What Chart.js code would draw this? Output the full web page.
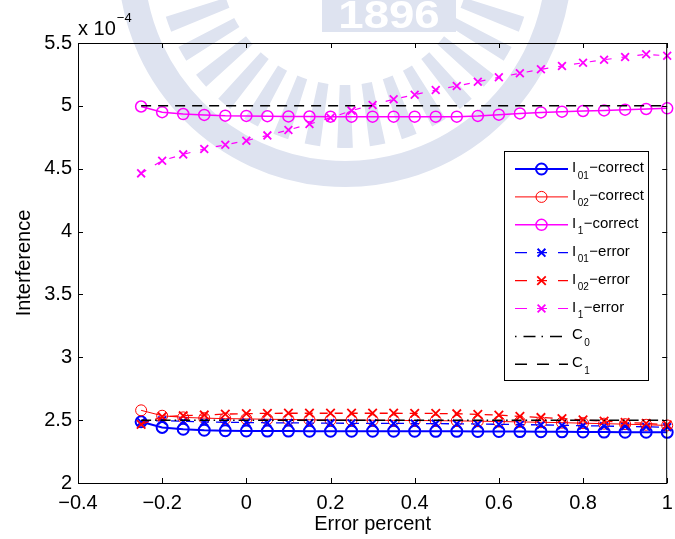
<!DOCTYPE html>
<html>
<head>
<meta charset="utf-8">
<script src="https://cdn.jsdelivr.net/npm/chart.js@4/dist/chart.umd.min.js"></script>
<style>
  html, body { margin: 0; padding: 0; background: #fff; }
  #wrap { width: 675px; height: 539px; }
</style>
</head>
<body>
<div id="wrap"><canvas id="interference_chart" width="675" height="539"></canvas></div>
<script>
// error percent on the x axis
const errorPercent = [-0.25, -0.2, -0.15, -0.1, -0.05, 0, 0.05, 0.1, 0.15, 0.2, 0.25, 0.3, 0.35,
  0.4, 0.45, 0.5, 0.55, 0.6, 0.65, 0.7, 0.75, 0.8, 0.85, 0.9, 0.95, 1];

// interference, units of 1e-4
const i01Correct = [2.487, 2.442, 2.428, 2.420, 2.416, 2.414, 2.413, 2.413, 2.412, 2.412, 2.412, 2.412, 2.412,
  2.412, 2.411, 2.411, 2.410, 2.410, 2.409, 2.408, 2.407, 2.406, 2.405, 2.404, 2.404, 2.403];
const i02Correct = [2.578, 2.535, 2.522, 2.516, 2.512, 2.510, 2.507, 2.505, 2.503, 2.501, 2.500, 2.499, 2.498,
  2.497, 2.496, 2.494, 2.492, 2.489, 2.486, 2.483, 2.480, 2.476, 2.472, 2.468, 2.463, 2.458];
const i1Correct = [4.995, 4.950, 4.935, 4.928, 4.922, 4.920, 4.918, 4.916, 4.915, 4.914, 4.914, 4.914, 4.914,
  4.914, 4.914, 4.914, 4.920, 4.930, 4.940, 4.948, 4.954, 4.959, 4.964, 4.970, 4.975, 4.980];
const i01Error = [2.485, 2.498, 2.490, 2.486, 2.483, 2.481, 2.479, 2.478, 2.477, 2.476, 2.475, 2.475, 2.474,
  2.473, 2.472, 2.471, 2.469, 2.467, 2.465, 2.462, 2.459, 2.456, 2.453, 2.450, 2.447, 2.444];
const i02Error = [2.466, 2.527, 2.535, 2.541, 2.548, 2.552, 2.554, 2.555, 2.555, 2.555, 2.555, 2.555, 2.555,
  2.554, 2.553, 2.551, 2.546, 2.540, 2.530, 2.521, 2.512, 2.502, 2.492, 2.483, 2.474, 2.462];
const i1Error = [4.463, 4.564, 4.614, 4.657, 4.690, 4.723, 4.765, 4.808, 4.855, 4.905, 4.962, 5.007, 5.052,
  5.089, 5.126, 5.158, 5.192, 5.227, 5.259, 5.291, 5.317, 5.343, 5.367, 5.389, 5.410, 5.398];

// reference levels C0 and C1
const levelRange = [-0.25, 1];
const c0Level = [2.5, 2.5];
const c1Level = [5, 5];

// legend names: main letter, subscript, suffix
const seriesNames = [
  ["I", "01", "\u2212correct"],
  ["I", "02", "\u2212correct"],
  ["I", "1", "\u2212correct"],
  ["I", "01", "\u2212error"],
  ["I", "02", "\u2212error"],
  ["I", "1", "\u2212error"],
  ["C", "0", ""],
  ["C", "1", ""],
];

const xTicks = { min: -0.4, max: 1, step: 0.2 };
const yTicks = { min: 2, max: 5.5, step: 0.5 };

const FONT = "'Liberation Sans', Arial, Helvetica, sans-serif";
const BLUE = "#0000ff";
const RED = "#ff0000";
const MAGENTA = "#ff00ff";
const BLACK = "#000000";

const toPoints = (xs, ys) => xs.map((x, i) => ({ x: x, y: ys[i] }));

const makeSet = (idx, xs, ys, style) => ({
  label: seriesNames[idx].join(""),
  names: seriesNames[idx],
  data: toPoints(xs, ys),
  borderColor: style.color,
  borderWidth: style.width,
  borderDash: style.dash || [],
  legendDash: style.legendDash || [],
  pointStyle: style.marker || false,
  pointRadius: style.marker ? style.radius : 0,
  pointBorderWidth: style.markerWidth || style.width,
  pointBorderColor: style.color,
  pointBackgroundColor: "rgba(0,0,0,0)",
  tension: 0,
  fill: false,
  clip: false,
  order: 10 - idx,
});

// legend sample for the dashed series: dash, gap, short dash through the marker, gap, dash
const markerDash = [12, 10, 10, 11, 12];

const datasets = [
  makeSet(0, errorPercent, i01Correct, { color: BLUE, width: 2, marker: "circle", radius: 5.5 }),
  makeSet(1, errorPercent, i02Correct, { color: RED, width: 1, marker: "circle", radius: 5.5 }),
  makeSet(2, errorPercent, i1Correct, { color: MAGENTA, width: 1.5, marker: "circle", radius: 5.5 }),
  makeSet(3, errorPercent, i01Error, { color: BLUE, width: 1.3, dash: [8, 7], legendDash: markerDash, marker: "crossRot", radius: 5.5, markerWidth: 2 }),
  makeSet(4, errorPercent, i02Error, { color: RED, width: 1.3, dash: [8, 7], legendDash: markerDash, marker: "crossRot", radius: 6, markerWidth: 1.8 }),
  makeSet(5, errorPercent, i1Error, { color: MAGENTA, width: 1.2, dash: [6, 10], legendDash: markerDash, marker: "crossRot", radius: 5.5, markerWidth: 1.8 }),
  makeSet(6, levelRange, c0Level, { color: BLACK, width: 1.5, dash: [10, 4, 1.5, 4], legendDash: [1.5, 7, 12, 6] }),
  makeSet(7, levelRange, c1Level, { color: BLACK, width: 1.5, dash: [10, 7], legendDash: [12, 10] }),
];

const fmtTick = (v) => {
  const r = Math.round(v * 10) / 10;
  return r < 0 ? "\u2212" + Math.abs(r) : String(r);
};

// faint emblem behind the plot
const emblem = {
  id: "emblem",
  beforeDraw(chart) {
    const ctx = chart.ctx;
    const cx = 345, cy = -40;
    const tint = "rgb(222,227,240)";
    ctx.save();
    ctx.fillStyle = tint;
    ctx.strokeStyle = tint;
    ctx.lineWidth = 26;
    ctx.beginPath();
    ctx.arc(cx, cy, 214, Math.PI * 0.03, Math.PI * 0.97);
    ctx.stroke();
    for (let a = 20; a <= 160; a += 10) {
      const t0 = (a - 2.4) * Math.PI / 180;
      const t1 = (a + 2.4) * Math.PI / 180;
      ctx.beginPath();
      ctx.arc(cx, cy, 188, t0, t1);
      ctx.arc(cx, cy, 125, t1, t0, true);
      ctx.closePath();
      ctx.fill();
    }
    ctx.fillRect(322, 0, 134, 32);
    ctx.fillStyle = "#ffffff";
    ctx.font = "bold 38px " + FONT;
    ctx.textAlign = "center";
    ctx.textBaseline = "alphabetic";
    ctx.save();
    ctx.translate(389, 28);
    ctx.scale(1.2, 1);
    ctx.fillText("1896", 0, 0);
    ctx.restore();
    ctx.restore();
  },
};

// axes box, inward ticks, exponent label and legend
const decorations = {
  id: "decorations",
  afterDraw(chart) {
    const ctx = chart.ctx;
    const { left, right, top, bottom } = chart.chartArea;
    const xs = chart.scales.x;
    const ys = chart.scales.y;
    const tick = 5;
    ctx.save();
    ctx.strokeStyle = BLACK;
    ctx.lineWidth = 1;
    ctx.setLineDash([]);
    ctx.strokeRect(left + 0.5, top + 0.5, right - left - 1, bottom - top);
    ctx.beginPath();
    xs.ticks.forEach((t) => {
      const px = Math.round(xs.getPixelForValue(t.value)) + 0.5;
      ctx.moveTo(px, bottom); ctx.lineTo(px, bottom - tick);
      ctx.moveTo(px, top); ctx.lineTo(px, top + tick);
    });
    ys.ticks.forEach((t) => {
      const py = Math.round(ys.getPixelForValue(t.value)) + 0.5;
      ctx.moveTo(left, py); ctx.lineTo(left + tick, py);
      ctx.moveTo(right, py); ctx.lineTo(right - tick, py);
    });
    ctx.stroke();

    // exponent of the y axis
    ctx.fillStyle = BLACK;
    ctx.textAlign = "left";
    ctx.textBaseline = "alphabetic";
    ctx.font = "20px " + FONT;
    ctx.fillText("x 10", left, 35);
    const w = ctx.measureText("x 10").width;
    ctx.font = "13px " + FONT;
    ctx.fillText("\u22124", left + w + 1, 22);

    // legend
    const box = { x: 504.5, y: 151.5, w: 144, h: 229 };
    ctx.fillStyle = "#ffffff";
    ctx.fillRect(box.x, box.y, box.w, box.h);
    ctx.strokeRect(box.x, box.y, box.w, box.h);
    const x0 = 515, x1 = 568, xm = 541.5, xt = 572;
    chart.data.datasets.forEach((ds, i) => {
      const y = 169 + i * 27.9;
      ctx.strokeStyle = ds.borderColor;
      ctx.lineWidth = ds.borderWidth;
      ctx.setLineDash(ds.legendDash);
      ctx.beginPath();
      ctx.moveTo(x0, y); ctx.lineTo(x1, y);
      ctx.stroke();
      ctx.setLineDash([]);
      if (ds.pointStyle) {
        const r = ds.pointRadius;
        ctx.lineWidth = ds.pointBorderWidth;
        ctx.beginPath();
        if (ds.pointStyle === "circle") {
          ctx.arc(xm, y, r, 0, Math.PI * 2);
        } else {
          const d = r * Math.SQRT1_2;
          ctx.moveTo(xm - d, y - d); ctx.lineTo(xm + d, y + d);
          ctx.moveTo(xm - d, y + d); ctx.lineTo(xm + d, y - d);
        }
        ctx.stroke();
      }
      const [main, sub, rest] = ds.names;
      ctx.fillStyle = BLACK;
      ctx.font = "15px " + FONT;
      ctx.fillText(main, xt, y + 3);
      let cx = xt + ctx.measureText(main).width + 1.5;
      ctx.font = "10px " + FONT;
      ctx.fillText(sub, cx, y + 9.5);
      cx += ctx.measureText(sub).width + 0.5;
      ctx.font = "15px " + FONT;
      ctx.fillText(rest, cx, y + 3);
    });
    ctx.restore();
  },
};

const cxt = document.getElementById("interference_chart").getContext("2d");

new Chart(cxt, {
  type: "line",
  data: { datasets: datasets },
  plugins: [emblem, decorations],
  options: {
    responsive: false,
    animation: false,
    events: [],
    layout: { padding: { top: 43, right: 3, left: 0, bottom: 0 } },
    plugins: {
      legend: { display: false },
      tooltip: { enabled: false },
    },
    scales: {
      x: {
        type: "linear",
        min: xTicks.min,
        max: xTicks.max,
        grid: { drawOnChartArea: false, drawTicks: false },
        border: { display: false },
        ticks: {
          stepSize: xTicks.step,
          autoSkip: false,
          maxRotation: 0,
          padding: 8,
          color: BLACK,
          font: { family: FONT, size: 20 },
          callback: (v) => fmtTick(v),
        },
        title: {
          display: true,
          text: "Error percent",
          color: BLACK,
          font: { family: FONT, size: 20 },
          padding: { top: 0, bottom: 3 },
        },
        afterFit: (scale) => {
          scale.height = 56;
          scale.paddingLeft = 0;
          scale.paddingRight = 0;
        },
      },
      y: {
        type: "linear",
        min: yTicks.min,
        max: yTicks.max,
        grid: { drawOnChartArea: false, drawTicks: false },
        border: { display: false },
        ticks: {
          stepSize: yTicks.step,
          padding: 6,
          color: BLACK,
          font: { family: FONT, size: 20 },
          callback: (v) => fmtTick(v),
        },
        title: {
          display: true,
          text: "Interference",
          color: BLACK,
          font: { family: FONT, size: 20 },
          padding: { top: 12, bottom: 0 },
        },
        afterFit: (scale) => {
          scale.width = 78;
          scale.paddingTop = 0;
          scale.paddingBottom = 0;
        },
      },
    },
  },
});
</script>
</body>
</html>
